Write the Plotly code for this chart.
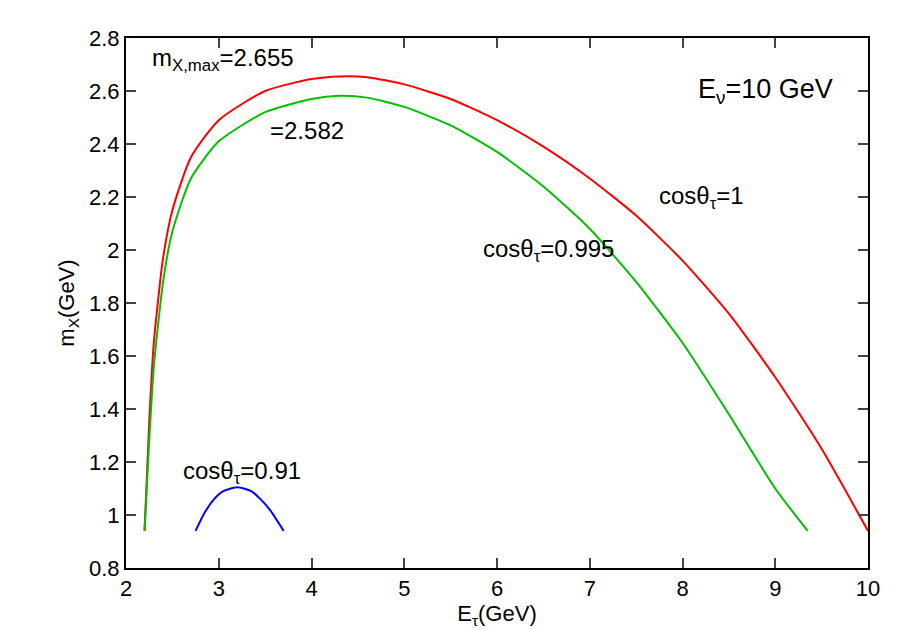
import plotly.graph_objects as go

red_x = [2.2, 2.25, 2.3, 2.4, 2.5, 2.7, 3.0, 3.5, 4.0, 4.3, 4.6, 5.0, 5.5, 6.0, 6.5, 7.0, 7.5, 8.0, 8.5, 9.0, 9.5, 10.0]
red_y = [0.94, 1.35, 1.65, 1.97, 2.15, 2.35, 2.49, 2.6, 2.645, 2.655, 2.652, 2.625, 2.57, 2.49, 2.39, 2.27, 2.13, 1.96, 1.76, 1.52, 1.25, 0.94]
green_x = [2.2, 2.25, 2.3, 2.4, 2.5, 2.7, 3.0, 3.5, 4.0, 4.3, 4.6, 5.0, 5.5, 6.0, 6.5, 7.0, 7.5, 8.0, 8.5, 9.0, 9.35]
green_y = [0.94, 1.28, 1.56, 1.88, 2.07, 2.27, 2.41, 2.52, 2.57, 2.582, 2.575, 2.54, 2.47, 2.37, 2.24, 2.08, 1.88, 1.65, 1.38, 1.1, 0.94]
blue_x = [2.75, 2.85, 2.95, 3.05, 3.2, 3.35, 3.45, 3.55, 3.7]
blue_y = [0.94, 1.01, 1.06, 1.09, 1.105, 1.09, 1.06, 1.02, 0.94]

fig = go.Figure()
for x, y, c in [(red_x, red_y, "#ff0000"), (green_x, green_y, "#00c000"), (blue_x, blue_y, "#0000ff")]:
    fig.add_trace(go.Scatter(x=x, y=y, mode="lines", line=dict(color=c, width=2, shape="spline", smoothing=0.6), showlegend=False))

FONT = "Liberation Sans, Arial"
f = dict(family=FONT, size=24, color="black")
anns = [
    (3.05, 2.72, "m<sub>X,max</sub>=2.655", 24),
    (3.95, 2.45, "=2.582", 24),
    (8.2, 2.2, "cosθ<sub>τ</sub>=1", 24),
    (6.55, 2.0, "cosθ<sub>τ</sub>=0.995", 24),
    (3.25, 1.16, "cosθ<sub>τ</sub>=0.91", 24),
    (8.9, 2.6, "E<sub>ν</sub>=10 GeV", 27),
]
for x, y, t, s in anns:
    fig.add_annotation(x=x, y=y, text=t, showarrow=False, font=dict(f, size=s))

ax = dict(showline=True, linecolor="black", linewidth=2, mirror="ticks", ticks="inside", ticklen=10,
          tickwidth=1.5, showgrid=False, zeroline=False, tickfont=dict(family=FONT, size=22, color="black"))
fig.update_xaxes(range=[2, 10], dtick=1, title=dict(text="E<sub>τ</sub>(GeV)", font=dict(family=FONT, size=22, color="black"), standoff=2), **ax)
fig.update_yaxes(range=[0.8, 2.8], dtick=0.2, title=dict(text="m<sub>X</sub>(GeV)", font=dict(family=FONT, size=22, color="black"), standoff=8), **ax)
fig.update_layout(width=900, height=630, plot_bgcolor="white", paper_bgcolor="white",
                  margin=dict(l=118, r=40, t=30, b=70))
fig.write_html("out.html")
